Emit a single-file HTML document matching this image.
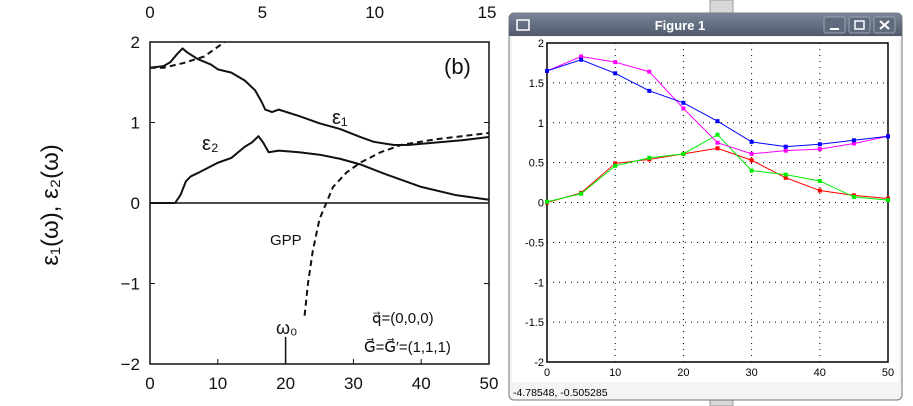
<!DOCTYPE html>
<html><head><meta charset="utf-8"><style>
html,body{margin:0;padding:0;background:#fff;width:913px;height:406px;overflow:hidden}
svg text{font-family:"Liberation Sans",sans-serif}
</style></head><body>
<svg width="913" height="406" viewBox="0 0 913 406" xmlns="http://www.w3.org/2000/svg">
<!-- background scrollbar strip -->
<rect x="710" y="0" width="23" height="406" fill="#d8d8d8" stroke="#999"/>
<g id="left"></g>
<g id="win">
  <rect x="509" y="13" width="393" height="387" rx="5" fill="#f4f4f4" stroke="#777"/>
  <defs><linearGradient id="tb" x1="0" y1="0" x2="0" y2="1"><stop offset="0" stop-color="#7a8698"/><stop offset="1" stop-color="#4f5b6c"/></linearGradient></defs>
  <path d="M509,36 V18 a5,5 0 0 1 5,-5 H897 a5,5 0 0 1 5,5 V36 Z" fill="url(#tb)"/>
  <rect x="517" y="20" width="12" height="10" fill="none" stroke="#fff" stroke-width="1.5"/>
  <text x="680" y="30" font-size="13" font-weight="bold" fill="#fff" text-anchor="middle">Figure 1</text>
  <rect x="824" y="17" width="21" height="16" rx="2" fill="#5f6b7c" stroke="#9aa4b2"/>
  <rect x="849" y="17" width="21" height="16" rx="2" fill="#5f6b7c" stroke="#9aa4b2"/>
  <rect x="874" y="17" width="21" height="16" rx="2" fill="#5f6b7c" stroke="#9aa4b2"/>
  <line x1="830" y1="29" x2="839" y2="29" stroke="#fff" stroke-width="2"/>
  <rect x="855" y="21" width="9" height="8" fill="none" stroke="#fff" stroke-width="1.5"/>
  <path d="M880,21 L889,29 M889,21 L880,29" stroke="#fff" stroke-width="2"/>
  <rect x="512" y="37" width="387" height="345" fill="#fff"/>
  <text x="513" y="396" font-size="10.5" fill="#000">-4.78548, -0.505285</text>
</g>
<g id="right"></g>
</svg>
<script>
const NS="http://www.w3.org/2000/svg";
function mk(tag,attrs,parent,txt){const e=document.createElementNS(NS,tag);for(const k in attrs)e.setAttribute(k,attrs[k]);if(txt!==undefined)e.textContent=txt;parent.appendChild(e);return e;}

// ===== Right chart data =====
const rx=[0,5,10,15,20,25,30,35,40,45,50];
const blueY=[1.65,1.79,1.62,1.40,1.25,1.02,0.76,0.70,0.73,0.78,0.83];
const magentaY=[1.65,1.83,1.76,1.64,1.18,0.75,0.61,0.65,0.67,0.74,0.83];
const redY=[0,0.12,0.49,0.54,0.61,0.68,0.53,0.31,0.15,0.09,0.05];
const greenY=[0.01,0.11,0.46,0.56,0.61,0.85,0.40,0.35,0.27,0.07,0.03];
const rXTicks=[0,10,20,30,40,50];
const rYTicks=[2,1.5,1,0.5,0,-0.5,-1,-1.5,-2];
const rYLabels=["2","1.5","1","0.5","0","-0.5","-1","-1.5","-2"];

// ===== Left chart data =====
const eps1X=[0,2,3,4,4.8,5.5,7,9,10,12,14,15.5,16.5,17,18,19,22,25,28,31,33,36,38,42,46,50];
const eps1Y=[1.68,1.7,1.75,1.85,1.92,1.87,1.79,1.72,1.66,1.62,1.52,1.4,1.25,1.16,1.13,1.16,1.08,0.99,0.92,0.82,0.76,0.72,0.72,0.75,0.78,0.82];
const eps2X=[0,3.7,4.5,5.3,6,7,10,12,14,15,16,16.7,17.5,19,22,25,28,31,35,40,45,50];
const eps2Y=[0,0,0.1,0.27,0.33,0.37,0.5,0.56,0.7,0.75,0.83,0.75,0.63,0.65,0.63,0.6,0.55,0.48,0.35,0.2,0.1,0.04];
const gppUpX=[0,2,5,8,11];
const gppUpY=[1.68,1.68,1.74,1.82,2.0];
const gppLoX=[22.8,23.3,24,25,26,27,29,31,34,37,42,50];
const gppLoY=[-1.4,-1,-0.6,-0.2,0,0.2,0.38,0.5,0.63,0.72,0.79,0.87];
const lXTicks=[0,10,20,30,40,50];
const lTopTicks=[0,5,10,15];
const lYTicks=[2,1,0,-1,-2];
const lYLabels=["2","1","0","\u22121","\u22122"];

// ---- Right chart ----
(function(){
  const g=document.getElementById('right');
  const x0=547,x1=888,y0=362,y1=43;
  const X=v=>x0+(v-0)/50*(x1-x0), Y=v=>y0-(v+2)/4*(y0-y1);
  rXTicks.forEach(t=>{ if(t>0&&t<50){const l=mk('line',{x1:X(t),x2:X(t),y1:y1,y2:y0,stroke:'#000','stroke-width':1,'stroke-dasharray':'1,5'},g);}
    const tx=mk('text',{x:X(t),y:y0+14,'font-size':11,'text-anchor':'middle',fill:'#000'},g,String(t));});
  rYTicks.forEach((t,i)=>{ if(t>-2&&t<2){const l=mk('line',{x1:x0,x2:x1,y1:Y(t),y2:Y(t),stroke:'#000','stroke-width':1,'stroke-dasharray':'1,5'},g);}
    const tx=mk('text',{x:x0-3,y:Y(t)+4,'font-size':11,'text-anchor':'end',fill:'#000'},g,rYLabels[i]);});
  const fr=mk('rect',{x:x0,y:y1,width:x1-x0,height:y0-y1,fill:'none',stroke:'#000','stroke-width':1.5},g);
  
  const series=[[redY,'#f00','red-series'],[greenY,'#0e0','green-series'],[magentaY,'#f0f','magenta-series'],[blueY,'#00f','blue-series']];
  series.forEach(([ys,c,n])=>{
    const p=mk('polyline',{points:rx.map((v,i)=>X(v)+','+Y(ys[i])).join(' '),fill:'none',stroke:c,'stroke-width':1},g);
    
    rx.forEach((v,i)=>{const m=mk('rect',{x:X(v)-2,y:Y(ys[i])-2,width:4,height:4,fill:c},g);
      });
  });
})();

// ---- Left chart ----
(function(){
  const g=document.getElementById('left');
  const x0=150,x1=489,y0=364,y1=42;
  const X=v=>x0+v/50*(x1-x0), Y=v=>y0-(v+2)/4*(y0-y1);
  const fr=mk('rect',{x:x0,y:y1,width:x1-x0,height:y0-y1,fill:'none',stroke:'#111','stroke-width':1.5},g);
  
  const z=mk('line',{x1:x0,x2:x1,y1:Y(0),y2:Y(0),stroke:'#111','stroke-width':1.5},g);
  
  lXTicks.forEach(t=>{mk('line',{x1:X(t),x2:X(t),y1:y0,y2:y0-5,stroke:'#111'},g);
    const tx=mk('text',{x:X(t),y:y0+25,'font-size':17,'text-anchor':'middle',fill:'#111'},g,String(t));
    });
  lTopTicks.forEach(t=>{const tx=mk('text',{x:x0+t/15*(x1-2-x0),y:18,'font-size':17,'text-anchor':'middle',fill:'#111'},g,String(t));
    });
  lYTicks.forEach((t,i)=>{mk('line',{x1:x0,x2:x0+5,y1:Y(t),y2:Y(t),stroke:'#111'},g);mk('line',{x1:x1,x2:x1-5,y1:Y(t),y2:Y(t),stroke:'#111'},g);
    const tx=mk('text',{x:x0-10,y:Y(t)+6,'font-size':17,'text-anchor':'end',fill:'#111'},g,lYLabels[i]);
    });
  const line=(xs,ys,n,dash)=>{const p=mk('polyline',{points:xs.map((v,i)=>X(v)+','+Y(ys[i])).join(' '),fill:'none',stroke:'#111','stroke-width':2,'stroke-linejoin':'round'},g);
    if(dash)p.setAttribute('stroke-dasharray','6,4');
    };
  line(eps1X,eps1Y,'eps1-curve',false);
  line(eps2X,eps2Y,'eps2-curve',false);
  line(gppUpX,gppUpY,'gpp-upper-curve',true);
  line(gppLoX,gppLoY,'gpp-lower-curve',true);
  mk('line',{x1:X(20),x2:X(20),y1:y0,y2:y0-27,stroke:'#111','stroke-width':1.5},g);
  const lab=(x,y,s,t,n,fs)=>{const e=mk('text',{x:x,y:y,'font-size':fs||17,fill:'#111'},g,t);return e;};
  lab(444,74,0,'(b)','panel-label',22);
  lab(332,124,0,'\u03b5\u2081','eps1-label',20);
  lab(202,150,0,'\u03b5\u2082','eps2-label',20);
  lab(270,245,0,'GPP','gpp-label',15);
  lab(276,334,0,'\u03c9\u2080','omega0-label',18);
  lab(372,323,0,'q\u20d7=(0,0,0)','q-vector-label',15);
  lab(364,352,0,'G\u20d7=G\u20d7\u2032=(1,1,1)','g-vector-label',15);
  const yl=mk('text',{x:0,y:0,'font-size':24,'text-anchor':'middle',fill:'#111',transform:'translate(58,205) rotate(-90)'},g,'\u03b5\u2081(\u03c9),  \u03b5\u2082(\u03c9)');
  
})();
</script>
</body></html>
